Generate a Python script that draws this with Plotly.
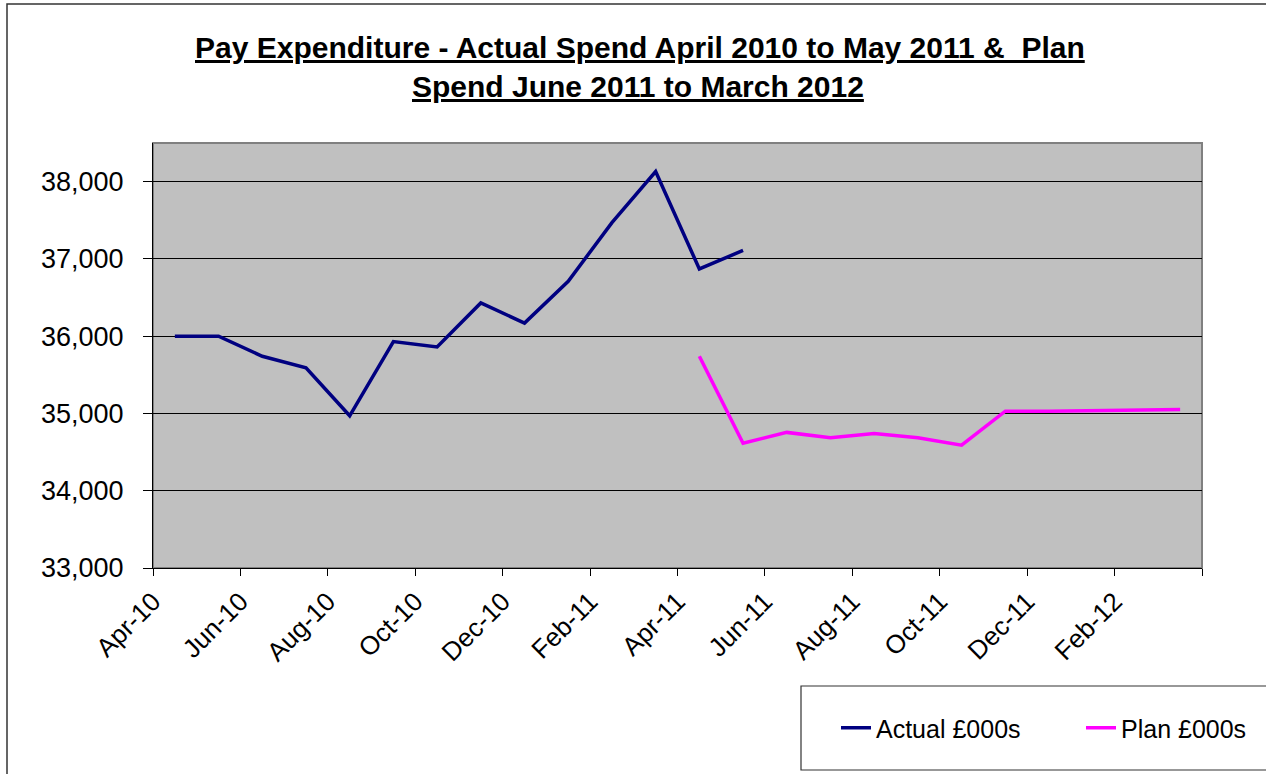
import plotly.graph_objects as go

# ---- data ----
months = ["Apr-10", "May-10", "Jun-10", "Jul-10", "Aug-10", "Sep-10", "Oct-10", "Nov-10",
          "Dec-10", "Jan-11", "Feb-11", "Mar-11", "Apr-11", "May-11", "Jun-11", "Jul-11",
          "Aug-11", "Sep-11", "Oct-11", "Nov-11", "Dec-11", "Jan-12", "Feb-12", "Mar-12"]
actual_months = months[0:14]
actual_values = [36000, 36000, 35740, 35590, 34970, 35930, 35860, 36430, 36170, 36710,
                 37470, 38130, 36870, 37110]
plan_months = months[12:24]
plan_values = [35740, 34615, 34755, 34685, 34740, 34685, 34590, 35030, 35030, 35035,
               35050, 35050]
tick_labels = ["Apr-10", "Jun-10", "Aug-10", "Oct-10", "Dec-10", "Feb-11", "Apr-11",
               "Jun-11", "Aug-11", "Oct-11", "Dec-11", "Feb-12", ""]
y_ticks = [33000, 34000, 35000, 36000, 37000, 38000]

FONT = "Arial, 'Liberation Sans', sans-serif"

def xpos(labels):
    # each month occupies one unit on the axis; the point sits in the middle
    return [months.index(m) + 0.5 for m in labels]

fig = go.Figure()
fig.add_trace(go.Scatter(x=xpos(actual_months), y=actual_values, mode="lines",
                         name="Actual £000s", line=dict(color="#000080", width=3.5)))
fig.add_trace(go.Scatter(x=xpos(plan_months), y=plan_values, mode="lines",
                         name="Plan £000s", line=dict(color="#FF00FF", width=3.5)))

W, H = 1266, 774
L, R, T, B = 153, 1202, 143, 568
pw, ph = R - L, B - T

def px_x(x):
    return (x - L) / pw

def px_y(y):
    return (B - y) / ph

fig.update_layout(
    width=W, height=H,
    margin=dict(l=L, r=W - R, t=T, b=H - B),
    paper_bgcolor="white",
    plot_bgcolor="#C0C0C0",
    font=dict(family=FONT, color="black"),
    showlegend=True,
    legend=dict(orientation="h", xref="container", yref="container",
                x=836 / W, y=1 - 728 / H, xanchor="left", yanchor="middle",
                font=dict(size=25, family=FONT), bgcolor="rgba(0,0,0,0)",
                entrywidth=200, entrywidthmode="pixels"),
    xaxis=dict(range=[0, 24], tickmode="array",
               tickvals=list(range(0, 25, 2)), ticktext=tick_labels,
               tickangle=-45, tickfont=dict(size=26, family=FONT),
               ticks="outside", ticklen=7, tickcolor="black", tickwidth=1,
               showline=True, linecolor="black", linewidth=1,
               showgrid=False, zeroline=False, fixedrange=True),
    yaxis=dict(range=[33000, 38500], tickmode="array", tickvals=y_ticks,
               tickformat=",", tickfont=dict(size=27, family=FONT),
               ticks="outside", ticklen=9, tickcolor="black", tickwidth=1,
               ticklabelstandoff=14,
               showline=True, linecolor="black", linewidth=1,
               showgrid=True, gridcolor="black", gridwidth=1,
               zeroline=False, fixedrange=True),
    shapes=[
        # plot area frame
        dict(type="rect", xref="paper", yref="paper", x0=0, x1=1, y0=0, y1=1,
             line=dict(color="#808080", width=2), layer="below"),
        # outer chart border
        dict(type="rect", xref="paper", yref="paper",
             x0=px_x(7), x1=px_x(1290), y0=px_y(800), y1=px_y(4),
             line=dict(color="#333333", width=1.5), layer="above"),
        # legend box
        dict(type="rect", xref="paper", yref="paper",
             x0=px_x(801), x1=px_x(1290), y0=px_y(770), y1=px_y(686),
             line=dict(color="#333333", width=1.2), layer="above"),
    ],
    annotations=[
        dict(text="<u><b>Pay Expenditure - Actual Spend April 2010 to May 2011 &amp;  Plan</b></u>",
             xref="paper", yref="paper", x=px_x(640), y=px_y(66), xanchor="center",
             yanchor="bottom", showarrow=False, font=dict(size=30, family=FONT)),
        dict(text="<u><b>Spend June 2011 to March 2012</b></u>",
             xref="paper", yref="paper", x=px_x(638), y=px_y(105), xanchor="center",
             yanchor="bottom", showarrow=False, font=dict(size=30, family=FONT)),
    ],
)

fig.write_html("out.html")
